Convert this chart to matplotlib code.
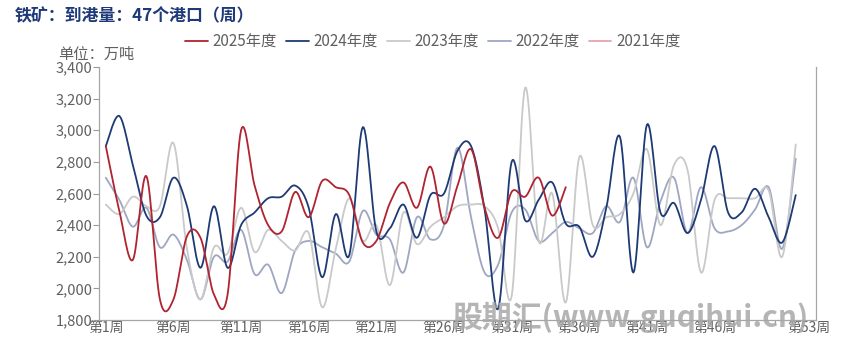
import numpy as np
import matplotlib
matplotlib.use("Agg")
import matplotlib.pyplot as plt
from matplotlib.ticker import FuncFormatter, FixedLocator

plt.rcParams['font.family'] = ['Noto Sans CJK SC', 'DejaVu Sans']

# weekly arrivals, 10k tonnes
y2025 = [2900, 2490, 2180, 2710, 1930, 1930, 2330, 2320, 1960, 1960,
         3000, 2650, 2400, 2360, 2610, 2450, 2680, 2640, 2590, 2290,
         2300, 2540, 2670, 2510, 2770, 2410, 2650, 2880, 2510, 2320,
         2610, 2580, 2700, 2460, 2640]
y2024 = [2900, 3090, 2780, 2460, 2450, 2700, 2520, 2130, 2520, 2130,
         2400, 2480, 2570, 2580, 2650, 2510, 2070, 2470, 2210, 3020,
         2360, 2380, 2530, 2320, 2590, 2600, 2870, 2900, 2500, 1870,
         2800, 2430, 2560, 2670, 2410, 2390, 2200, 2510, 2960, 2100,
         3035, 2480, 2540, 2350, 2560, 2900, 2480, 2480, 2630, 2450,
         2290, 2590]
y2023 = [2530, 2470, 2580, 2520, 2520, 2920, 2250, 1930, 2260, 2220,
         2510, 2230, 2370, 2300, 2240, 2350, 1880, 2250, 2570, 2300,
         2400, 2020, 2480, 2280, 2390, 2450, 2520, 2530, 2520, 2380,
         1950, 3270, 2300, 2600, 1910, 2830, 2400, 2450, 2470, 2600,
         2880, 2400, 2780, 2750, 2100, 2560, 2570, 2570, 2570, 2620,
         2200, 2910]
y2022 = [2700, 2560, 2390, 2510, 2260, 2340, 2180, 1930, 2200, 2170,
         2370, 2090, 2150, 1970, 2240, 2300, 2260, 2220, 2170, 2490,
         2340, 2310, 2100, 2450, 2310, 2400, 2890, 2450, 2100, 2150,
         2480, 2500, 2300, 2350, 2420, 2380, 2350, 2520, 2420, 2700,
         2260, 2550, 2700, 2350, 2640, 2380, 2360, 2400, 2500, 2640,
         2250, 2820]
y2021 = []

series = [
    ("2021年度", y2021, "#EBA3AB", 1),
    ("2022年度", y2022, "#9EA6C2", 2),
    ("2023年度", y2023, "#C9C9C9", 3),
    ("2024年度", y2024, "#1E3A74", 4),
    ("2025年度", y2025, "#B0232F", 5),
]
week_labels = [1, 6, 11, 16, 21, 26, 31, 36, 41, 46, 53]


def smooth(y, n=16):
    # excel style smoothed line (bezier through the points)
    y = np.asarray(y, float)
    if len(y) < 2:
        return np.arange(1, len(y) + 1), y
    P = np.column_stack([np.arange(1, len(y) + 1), y])
    E = np.vstack([P[0], P, P[-1]])
    t = np.linspace(0, 1, n)[:, None]
    out = []
    for i in range(len(P) - 1):
        p0, p1, p2, p3 = E[i], E[i + 1], E[i + 2], E[i + 3]
        c1 = p1 + (p2 - p0) / 6
        c2 = p2 - (p3 - p1) / 6
        seg = (1 - t)**3 * p1 + 3 * (1 - t)**2 * t * c1 + 3 * (1 - t) * t**2 * c2 + t**3 * p2
        out.append(seg if i == 0 else seg[1:])
    out = np.vstack(out)
    return out[:, 0], out[:, 1]


fig = plt.figure(figsize=(8.45, 3.49), dpi=100)
ax = fig.add_axes([0.1172, 0.0831, 0.8485, 0.7249])

handles = {}
for name, vals, col, z in series:
    xs, ys = smooth(vals)
    ln, = ax.plot(xs, ys, color=col, lw=1.3, zorder=z, label=name,
                  solid_capstyle='round')
    handles[name] = ln

ax.set_xlim(0.5, 53.5)
ax.set_ylim(1800, 3400)
ax.set_yticks(np.arange(1800, 3401, 200))
ax.yaxis.set_major_formatter(FuncFormatter(lambda v, p: f"{int(v):,}"))
ax.tick_params(axis='y', colors='#9A9A9A', labelcolor='#606060', labelsize=10.5,
               length=4, width=0.8, pad=1)

ax.xaxis.set_major_locator(FixedLocator(np.arange(0.5, 51, 5)))
ax.xaxis.set_minor_locator(FixedLocator(week_labels))
ax.xaxis.set_major_formatter(FuncFormatter(lambda v, p: ""))
ax.xaxis.set_minor_formatter(FuncFormatter(lambda v, p: f"第{int(round(v))}周"))
ax.tick_params(axis='x', which='major', colors='#9A9A9A', length=3, width=0.8)
ax.tick_params(axis='x', which='minor', length=0, labelcolor='#606060',
               labelsize=10, pad=1)

for s in ['left', 'bottom', 'right']:
    ax.spines[s].set_color('#A6A6A6')
    ax.spines[s].set_linewidth(0.9)
ax.spines['top'].set_visible(False)

order = ["2025年度", "2024年度", "2023年度", "2022年度", "2021年度"]
fig.legend([handles[k] for k in order], order, loc='center', ncol=5,
           bbox_to_anchor=(0.512, 0.88), frameon=False, fontsize=11,
           handlelength=1.5, handletextpad=0.3, columnspacing=0.6,
           labelcolor='#606060')

fig.text(0.018, 0.952, "铁矿：到港量：47个港口（周）", fontsize=12.2, fontweight='bold',
         color='#1F3A7A', va='center', ha='left')
fig.text(0.069, 0.843, "单位：万吨", fontsize=11, color='#606060', va='center', ha='left')

fig.text(0.535, 0.09, "股期汇(www.guqihui.cn)", fontsize=21.5, fontweight='bold',
         color='#A8A8A8', alpha=0.85, va='center', ha='left', zorder=10,
         family=['Noto Sans CJK SC', 'DejaVu Sans'])

fig.savefig("out.png", dpi=100)
